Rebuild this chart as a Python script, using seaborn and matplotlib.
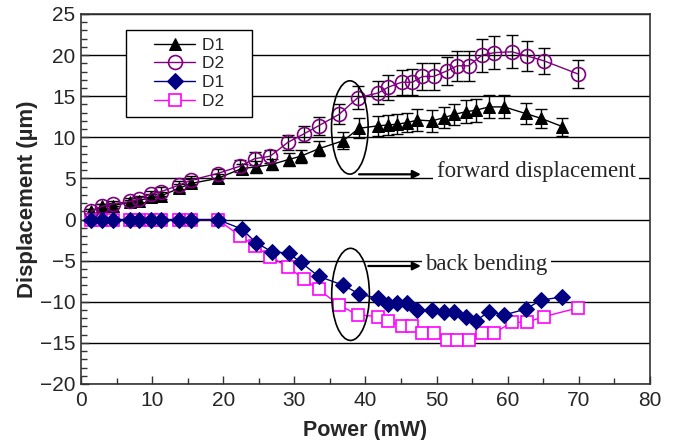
import matplotlib
matplotlib.use("Agg")
import matplotlib.pyplot as plt
from matplotlib.patches import Ellipse
from matplotlib.ticker import MultipleLocator
from matplotlib.legend_handler import HandlerLine2D
import seaborn as sns

# Power settings (mW) for the two devices
power_d1 = [1.4, 2.9, 4.5, 6.9, 8.2, 9.8, 11.3, 13.8, 15.5, 19.2,
            22.6, 24.6, 26.8, 29.2, 30.9, 33.4, 36.9, 39.1, 41.8, 43.2,
            44.5, 45.9, 47.3, 49.3, 51.1, 52.5, 54.1, 55.5, 57.4, 59.5,
            62.5, 64.7, 67.7]
power_d2 = [1.4, 2.9, 4.5, 6.9, 8.2, 9.8, 11.3, 13.8, 15.5, 19.2,
            22.4, 24.4, 26.6, 29.1, 31.3, 33.4, 36.3, 38.9, 41.8, 43.2,
            45.1, 46.6, 48.0, 49.6, 51.5, 52.9, 54.5, 56.4, 58.1, 60.6,
            62.7, 65.1, 69.9]

# Forward displacement (um) with error bars
fwd_d1 = [1.0, 1.6, 1.7, 2.1, 2.3, 2.7, 2.9, 3.8, 4.4, 5.0,
          6.2, 6.4, 6.7, 7.3, 7.7, 8.6, 9.6, 11.1, 11.4, 11.5,
          11.6, 11.8, 12.1, 12.0, 12.4, 12.8, 13.1, 13.3, 13.7, 13.7,
          12.9, 12.3, 11.3]
fwd_d1_err = [0.3, 0.3, 0.3, 0.3, 0.4, 0.4, 0.4, 0.5, 0.5, 0.6,
              0.6, 0.7, 0.7, 0.8, 0.8, 0.9, 1.0, 1.2, 1.2, 1.2,
              1.2, 1.2, 1.3, 1.3, 1.3, 1.3, 1.4, 1.4, 1.4, 1.4,
              1.3, 1.2, 1.1]
fwd_d2 = [1.0, 1.6, 1.9, 2.2, 2.5, 3.1, 3.4, 4.2, 4.8, 5.6,
          6.5, 7.4, 7.7, 9.4, 10.4, 11.4, 12.8, 14.8, 15.4, 16.1,
          16.7, 16.7, 17.4, 17.4, 18.1, 18.7, 18.7, 20.0, 20.3, 20.4,
          19.9, 19.3, 17.7]
fwd_d2_err = [0.3, 0.3, 0.3, 0.4, 0.4, 0.4, 0.5, 0.5, 0.5, 0.6,
              0.7, 0.8, 0.8, 0.9, 1.0, 1.1, 1.2, 1.4, 1.4, 1.5,
              1.5, 1.6, 1.7, 1.7, 1.7, 1.8, 1.8, 2.0, 2.0, 2.0,
              1.8, 1.6, 1.7]

# Back bending (um)
back_d1 = [0, 0, 0, 0, 0, 0, 0, 0, 0, 0,
           -1.15, -2.8, -3.9, -4.1, -5.2, -6.9, -8.0, -9.05, -9.6, -10.3,
           -10.2, -10.2, -11.0, -11.0, -11.2, -11.3, -11.9, -12.3, -11.2, -11.6,
           -10.9, -9.8, -9.4]
back_d2 = [0, 0, 0, 0, 0, 0, 0, 0, 0, 0,
           -2.0, -3.2, -4.5, -5.8, -7.2, -8.5, -10.4, -11.6, -11.8, -12.3,
           -13.0, -13.0, -13.8, -13.8, -14.6, -14.6, -14.6, -13.8, -13.8, -12.5,
           -12.5, -11.8, -10.75]

series_labels = ["D1", "D2", "D1", "D2"]
x_ticks = [0, 10, 20, 30, 40, 50, 60, 70, 80]
y_ticks = [-20, -15, -10, -5, 0, 5, 10, 15, 20, 25]

sns.set_style("ticks")
plt.rcParams["font.family"] = ["Liberation Sans", "DejaVu Sans"]

fig = plt.figure(figsize=(6.76, 4.40), dpi=100)
ax = fig.add_axes([0.1198, 0.1273, 0.8417, 0.8409])

# error bars of the forward displacement
ax.errorbar(power_d1, fwd_d1, yerr=fwd_d1_err, fmt="none", ecolor="black",
            elinewidth=1.0, capsize=4.5, capthick=1.0, zorder=3)
ax.errorbar(power_d2, fwd_d2, yerr=fwd_d2_err, fmt="none", ecolor="black",
            elinewidth=1.0, capsize=4.5, capthick=1.0, zorder=3)

sns.lineplot(x=power_d1, y=fwd_d1, ax=ax, color="black", marker="^",
             markersize=9, markeredgecolor="black", markerfacecolor="black",
             linewidth=1.0, label=series_labels[0], zorder=4)
sns.lineplot(x=power_d2, y=fwd_d2, ax=ax, color="#800080", marker="o",
             markersize=10, markeredgecolor="#800080", markerfacecolor="none",
             markeredgewidth=1.2, linewidth=1.0, label=series_labels[1], zorder=5)
sns.lineplot(x=power_d2, y=back_d2, ax=ax, color="#FF00FF", marker="s",
             markersize=9, markeredgecolor="#FF00FF", markerfacecolor="white",
             markeredgewidth=1.2, linewidth=1.0, label=series_labels[3], zorder=4)
sns.lineplot(x=power_d1, y=back_d1, ax=ax, color="#000080", marker="D",
             markersize=8.5, markeredgecolor="#000080", markerfacecolor="#000080",
             linewidth=1.0, label=series_labels[2], zorder=5)

ax.set_xlim(0, 80)
ax.set_ylim(-20, 25)
ax.set_xticks(x_ticks)
ax.set_yticks(y_ticks)
ax.xaxis.set_minor_locator(MultipleLocator(5))
ax.yaxis.set_minor_locator(MultipleLocator(1))
ax.tick_params(axis="both", which="major", direction="in", length=6, width=1,
               color="#333333", top=False, right=False)
ax.tick_params(axis="both", which="minor", direction="in", length=4, width=1,
               color="#333333", top=False, right=False)
ax.tick_params(axis="x", labelsize=15, pad=5)
ax.tick_params(axis="y", labelsize=15, pad=4)
ax.yaxis.grid(True, color="black", linewidth=1.0)
ax.set_axisbelow(True)
for side in ["left", "right", "top", "bottom"]:
    ax.spines[side].set_visible(True)
    ax.spines[side].set_color("#333333")
    ax.spines[side].set_linewidth(1.2)

ax.set_xlabel("Power (mW)", fontsize=15.5, fontweight="bold", labelpad=7)
ax.set_ylabel("Displacement (\u00b5m)", fontsize=16, fontweight="bold", labelpad=1)

# legend in the original series order, handles indented inside the frame
handles, labels = ax.get_legend_handles_labels()
handles = [handles[0], handles[1], handles[3], handles[2]]
leg = ax.legend(handles, [s + "    " for s in series_labels], loc="upper left",
                bbox_to_anchor=(0.079, 0.957), fontsize=12.5, frameon=True,
                fancybox=False, framealpha=1.0, edgecolor="black",
                handlelength=3.55, handletextpad=0.4, labelspacing=0.2,
                borderpad=0.45, borderaxespad=0.0,
                handler_map={h: HandlerLine2D(xpad=1.15) for h in handles})
leg.get_frame().set_linewidth(1.0)
leg.set_zorder(6)

# highlighted region around 38 mW
ax.add_patch(Ellipse((37.8, 11.2), 5.15, 11.35, fill=False,
                     edgecolor="black", linewidth=1.2, zorder=6))
ax.add_patch(Ellipse((37.9, -9.1), 5.3, 11.2, fill=False,
                     edgecolor="black", linewidth=1.2, zorder=6))

serif = ["Liberation Serif", "DejaVu Serif"]
ax.annotate("", xy=(47.8, 5.5), xytext=(39.1, 5.5),
            arrowprops=dict(arrowstyle="-|>", color="black", lw=1.6,
                            mutation_scale=12, shrinkA=0, shrinkB=0), zorder=7)
ax.text(50.0, 5.8, "forward displacement", family=serif, fontsize=16.5,
        ha="left", va="center", zorder=7,
        bbox=dict(boxstyle="square,pad=0.15", facecolor="white", edgecolor="none"))
ax.annotate("", xy=(47.8, -5.65), xytext=(40.4, -5.65),
            arrowprops=dict(arrowstyle="-|>", color="black", lw=1.6,
                            mutation_scale=12, shrinkA=0, shrinkB=0), zorder=7)
ax.text(48.4, -5.5, "back bending", family=serif, fontsize=16.5,
        ha="left", va="center", zorder=7,
        bbox=dict(boxstyle="square,pad=0.15", facecolor="white", edgecolor="none"))

fig.savefig("out.png", dpi=100)
